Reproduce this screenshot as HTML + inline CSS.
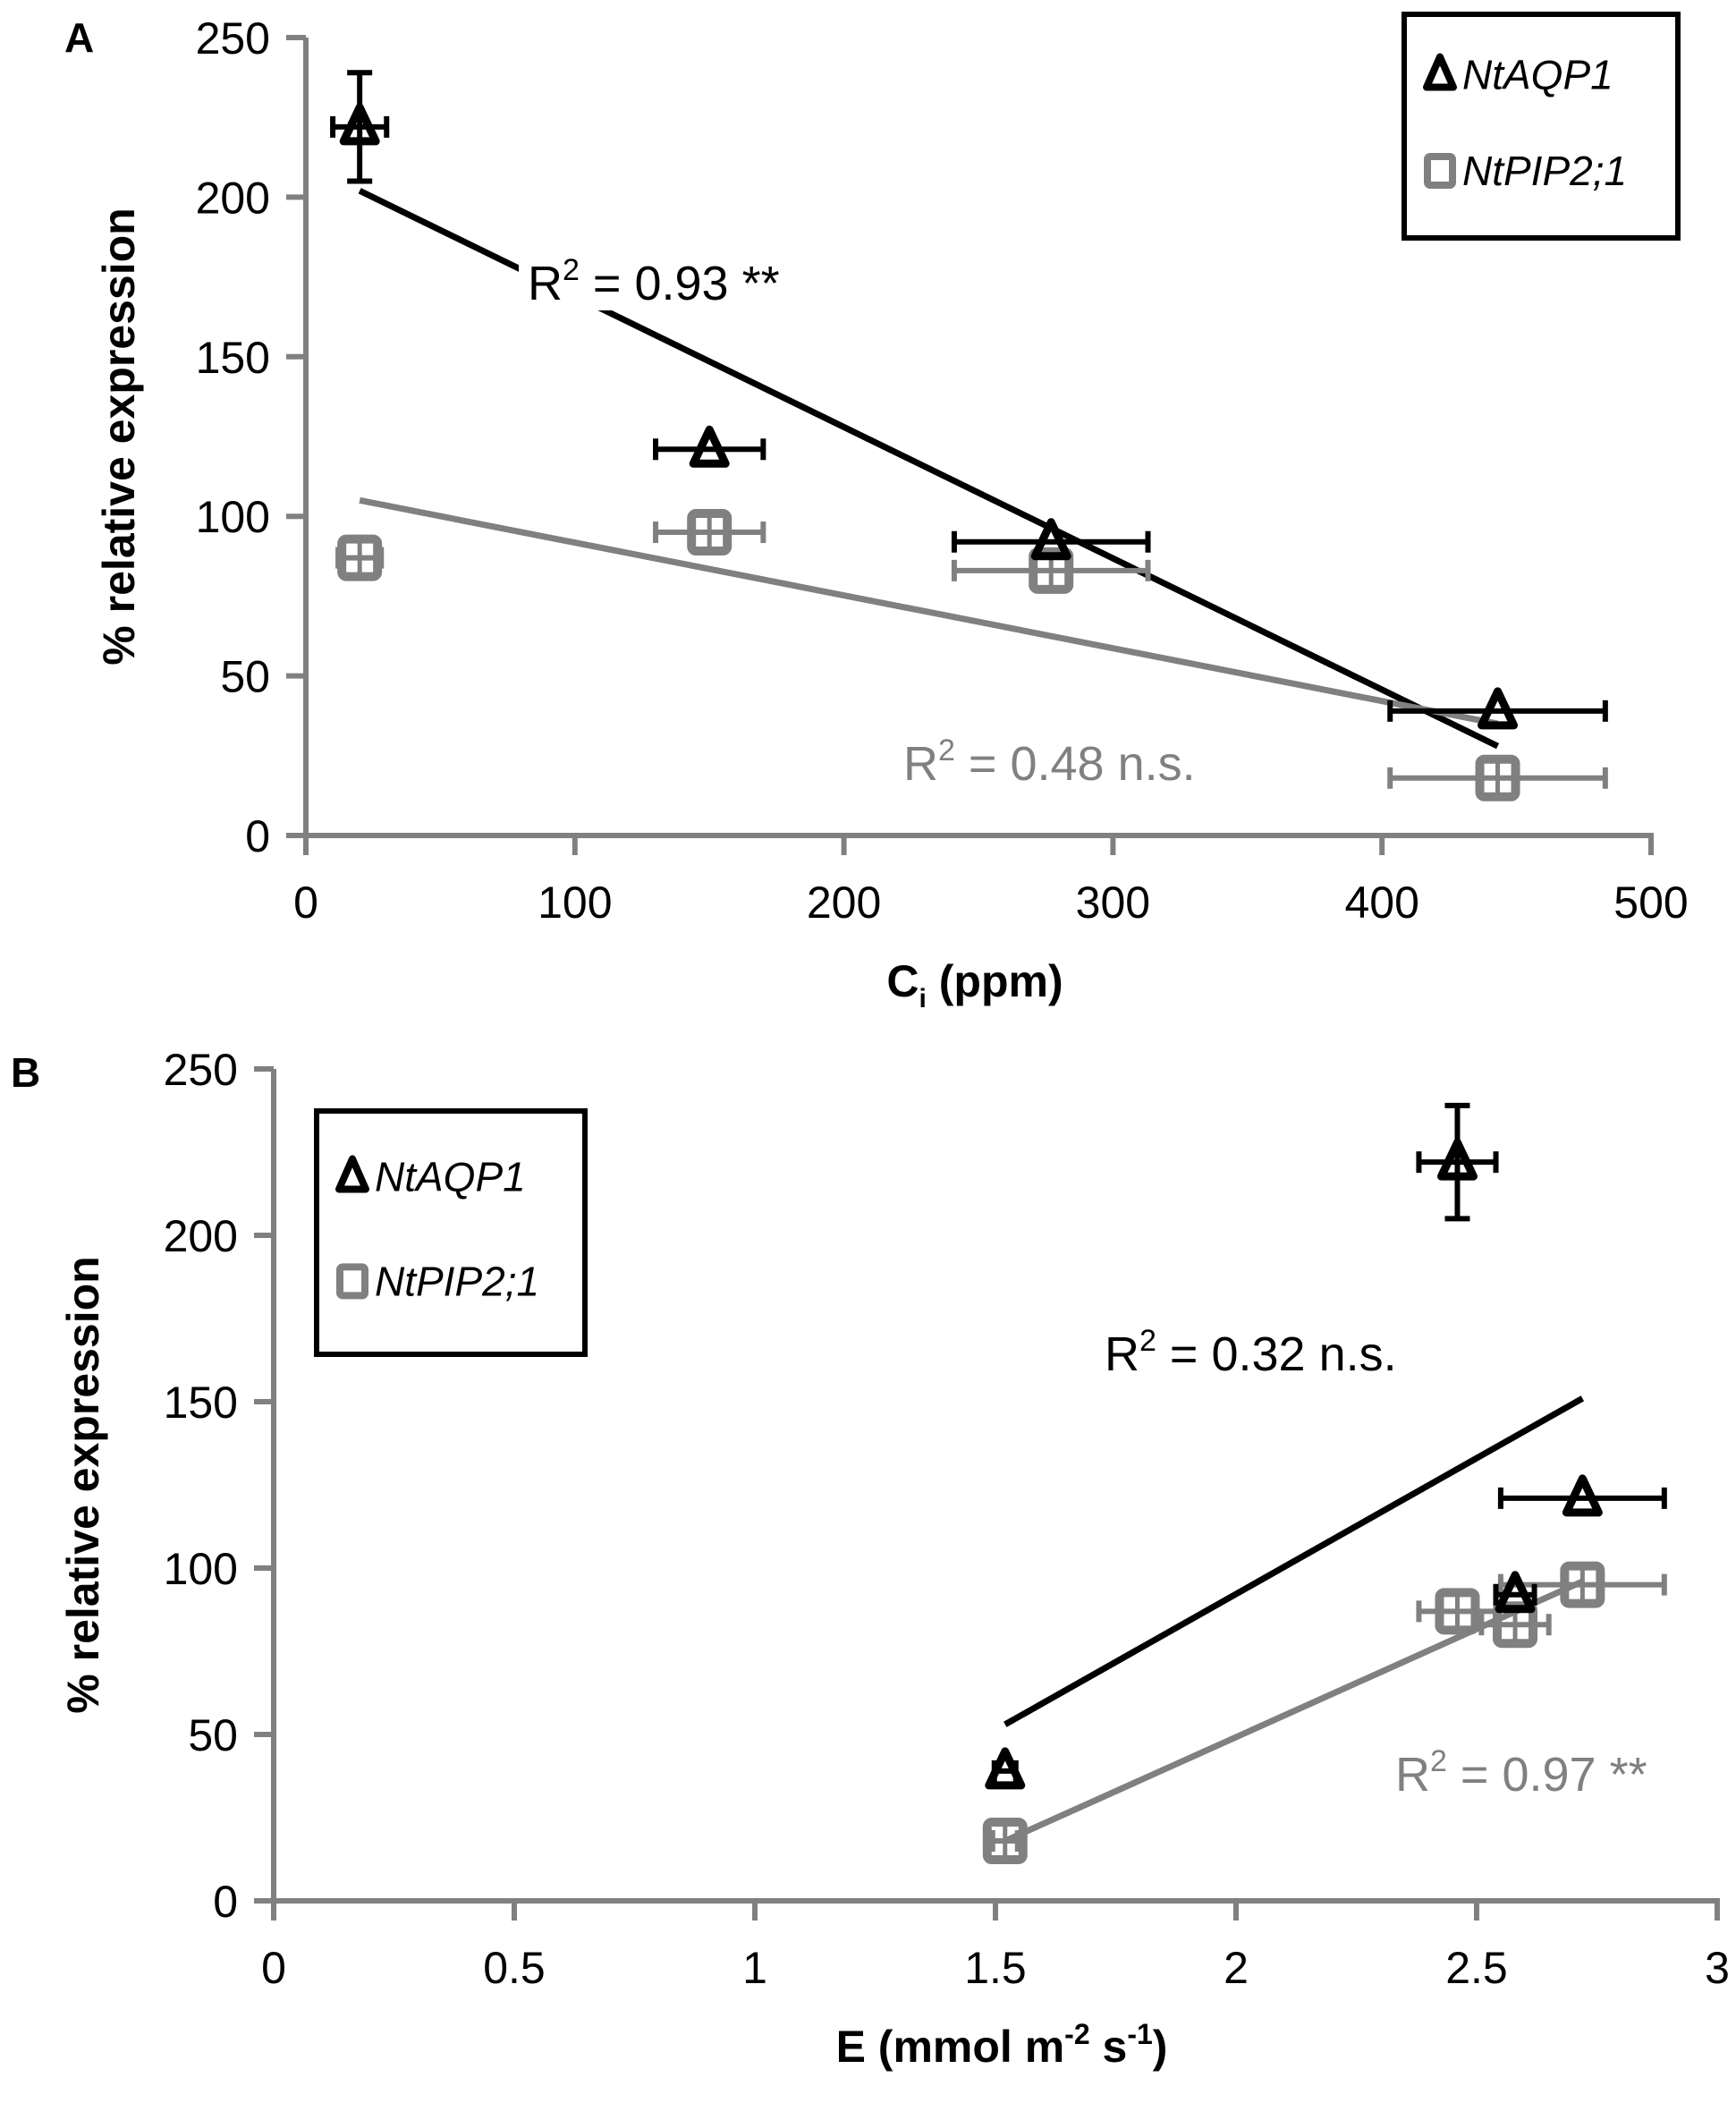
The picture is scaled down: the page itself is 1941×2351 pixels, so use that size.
<!DOCTYPE html>
<html><head><meta charset="utf-8"><style>
html,body{margin:0;padding:0;background:#fff;}
svg{display:block;font-family:"Liberation Sans",sans-serif;}
</style></head><body>
<svg id="fig" width="1941" height="2351" viewBox="0 0 1941 2351" xmlns="http://www.w3.org/2000/svg">
<g id="A"></g>
<g id="B"></g>
</svg>
<script>
// Panel A data (Ci, ppm)
const ciAqp = [20, 150, 277, 443];
const aqpA = [222, 121, 92, 39];
const aqpAYerr = [17, 0, 0, 0];
const ciAqpXerr = [10, 20, 36, 40];
const ciPip = [20, 150, 277, 443];
const pipA = [87, 95, 83, 18];
const ciPipXerr = [8, 20, 36, 40];
const trendAqpA = [[20, 202], [443, 28]];
const trendPipA = [[20, 105], [443, 35]];
const ticksAx = [0, 100, 200, 300, 400, 500];
const ticksY = [0, 50, 100, 150, 200, 250];
// Panel B data (E, mmol m-2 s-1)
const eAqp = [2.46, 2.72, 2.58, 1.52];
const aqpB = [222, 121, 92, 39];
const aqpBYerr = [17, 0, 0, 0];
const eAqpXerr = [0.08, 0.17, 0.04, 0.01];
const ePip = [2.46, 2.72, 2.58, 1.52];
const pipB = [87, 95, 83, 18];
const ePipXerr = [0.08, 0.17, 0.07, 0.01];
const trendAqpB = [[1.52, 53], [2.72, 151]];
const trendPipB = [[1.52, 18], [2.72, 96]];
const ticksBx = [0, 0.5, 1, 1.5, 2, 2.5, 3];
const ticksBxLbl = ["0", "0.5", "1", "1.5", "2", "2.5", "3"];

const NS = "http://www.w3.org/2000/svg";
function mk(parent, tag, attrs, text) {
  const e = document.createElementNS(NS, tag);
  for (const k in attrs) e.setAttribute(k, attrs[k]);
  if (text !== undefined) e.textContent = text;
  parent.appendChild(e);
  return e;
}
const GRAY = "#808080";

function panel(g, cfg) {
  const X = v => cfg.x0 + (v - cfg.xmin) / (cfg.xmax - cfg.xmin) * (cfg.x1 - cfg.x0);
  const Y = v => cfg.y0 - v / 250 * (cfg.y0 - cfg.y1);
  let ax = mk(g, "line", {x1: cfg.x0, y1: cfg.y0 + 3, x2: cfg.x0, y2: cfg.y1, stroke: GRAY, "stroke-width": 6});
  
  
  ax = mk(g, "line", {x1: cfg.x0 - 22, y1: cfg.y0, x2: cfg.x1 + 3, y2: cfg.y0, stroke: GRAY, "stroke-width": 6});
  
  
  cfg.yt.forEach(v => {
    const t = mk(g, "line", {x1: cfg.x0 - 22, y1: Y(v), x2: cfg.x0, y2: Y(v), stroke: GRAY, "stroke-width": 6});
    
    
    const l = mk(g, "text", {x: cfg.x0 - 40, y: Y(v) + 18, "text-anchor": "end", "font-size": 50, fill: "#000"}, String(v));
    
    
  });
  cfg.xt.forEach((v, i) => {
    const t = mk(g, "line", {x1: X(v), y1: cfg.y0, x2: X(v), y2: cfg.y0 + 22, stroke: GRAY, "stroke-width": 6});
    
    
    const l = mk(g, "text", {x: X(v), y: cfg.y0 + 92, "text-anchor": "middle", "font-size": 50, fill: "#000"}, cfg.xl[i]);
    
    
  });
  [[cfg.ta, "#000"], [cfg.tp, GRAY]].forEach(([tr, c], i) => {
    const l = mk(g, "line", {x1: X(tr[0][0]), y1: Y(tr[0][1]), x2: X(tr[1][0]), y2: Y(tr[1][1]), stroke: c, "stroke-width": 7});
    
    
  });
  cfg.r2.forEach(r => {
    const bg = mk(g, "rect", {x: r.x - 10, y: r.y - 50, width: r.w, height: 62, fill: "#fff"});
    
    
    const t = mk(g, "text", {x: r.x, y: r.y, "font-size": 54, fill: r.c});
    
    
    mk(t, "tspan", {}, "R");
    mk(t, "tspan", {"font-size": 34, dy: -22}, "2");
    mk(t, "tspan", {dy: 22}, " = " + r.txt);
  });
  cfg.px.forEach((xv, i) => {
    const cx = X(xv), cy = Y(cfg.py[i]);
    const gp = mk(g, "g", {});
    
    
    const xe = Math.max(cfg.pxe[i] / (cfg.xmax - cfg.xmin) * (cfg.x1 - cfg.x0), 14);
    mk(gp, "line", {x1: cx - xe, y1: cy, x2: cx + xe, y2: cy, stroke: GRAY, "stroke-width": 6});
    mk(gp, "line", {x1: cx - xe, y1: cy - 12, x2: cx - xe, y2: cy + 12, stroke: GRAY, "stroke-width": 6});
    mk(gp, "line", {x1: cx + xe, y1: cy - 12, x2: cx + xe, y2: cy + 12, stroke: GRAY, "stroke-width": 6});
    mk(gp, "rect", {x: cx - 20, y: cy - 21, width: 40, height: 42, rx: 5, fill: "none", stroke: GRAY, "stroke-width": 10});
    mk(gp, "line", {x1: cx, y1: cy - 20, x2: cx, y2: cy + 20, stroke: GRAY, "stroke-width": 5});
  });
  cfg.ax.forEach((xv, i) => {
    const cx = X(xv), cy = Y(cfg.ay[i]);
    const gp = mk(g, "g", {});
    
    
    const xe = Math.max(cfg.axe[i] / (cfg.xmax - cfg.xmin) * (cfg.x1 - cfg.x0), 12);
    mk(gp, "line", {x1: cx - xe, y1: cy, x2: cx + xe, y2: cy, stroke: "#000", "stroke-width": 6});
    mk(gp, "line", {x1: cx - xe, y1: cy - 12, x2: cx - xe, y2: cy + 12, stroke: "#000", "stroke-width": 6});
    mk(gp, "line", {x1: cx + xe, y1: cy - 12, x2: cx + xe, y2: cy + 12, stroke: "#000", "stroke-width": 6});
    if (cfg.aye[i] > 0) {
      const yt = Y(cfg.ay[i] + cfg.aye[i]), yb = Y(cfg.ay[i] - cfg.aye[i]);
      mk(gp, "line", {x1: cx, y1: yt, x2: cx, y2: yb, stroke: "#000", "stroke-width": 6});
      mk(gp, "line", {x1: cx - 14, y1: yt, x2: cx + 14, y2: yt, stroke: "#000", "stroke-width": 6});
      mk(gp, "line", {x1: cx - 14, y1: yb, x2: cx + 14, y2: yb, stroke: "#000", "stroke-width": 6});
    }
    mk(gp, "polygon", {points: `${cx},${cy-22} ${cx+18},${cy+16} ${cx-18},${cy+16}`, fill: "none", stroke: "#000", "stroke-width": 9, "stroke-linejoin": "round"});
  });
  const L = cfg.leg;
  const lg = mk(g, "g", {});
  
  
  mk(lg, "rect", {x: L.x, y: L.y, width: L.w, height: L.h, fill: "#fff", stroke: "#000", "stroke-width": 6});
  const e1 = mk(lg, "g", {});
  
  
  const tx = L.x + 40, ty1 = L.y + L.h * 0.27, ty2 = L.y + L.h * 0.7;
  mk(e1, "polygon", {points: `${tx},${ty1-20} ${tx+15},${ty1+14} ${tx-15},${ty1+14}`, fill: "none", stroke: "#000", "stroke-width": 8, "stroke-linejoin": "round"});
  mk(e1, "text", {x: tx + 25, y: ty1 + 16, "font-size": 46, "font-style": "italic", fill: "#000"}, "NtAQP1");
  const e2 = mk(lg, "g", {});
  
  
  mk(e2, "rect", {x: tx - 14, y: ty2 - 16, width: 28, height: 32, rx: 3, fill: "none", stroke: GRAY, "stroke-width": 8});
  mk(e2, "text", {x: tx + 25, y: ty2 + 16, "font-size": 46, "font-style": "italic", fill: "#000"}, "NtPIP2;1");
  const yc = (cfg.y0 + cfg.y1) / 2;
  const yt = mk(g, "text", {x: cfg.ytx, y: yc, "text-anchor": "middle", "font-size": 50, "font-weight": "bold", transform: `rotate(-90 ${cfg.ytx} ${yc})`}, "% relative expression");
  
  
  const xt = mk(g, "text", {x: cfg.xtx, y: cfg.y0 + 180, "text-anchor": "middle", "font-size": 50, "font-weight": "bold"});
  
  
  cfg.xtitle(xt);
  const pl = mk(g, "text", {x: cfg.plx, y: cfg.ply, "font-size": 46, "font-weight": "bold"}, cfg.pl);
  
  
}

panel(document.getElementById("A"), {
  x0: 342, x1: 1846, y0: 934, y1: 42, xmin: 0, xmax: 500,
  xt: ticksAx, xl: ticksAx.map(String), yt: ticksY,
  ax: ciAqp, ay: aqpA, aye: aqpAYerr, axe: ciAqpXerr,
  px: ciPip, py: pipA, pxe: ciPipXerr,
  ta: trendAqpA, tp: trendPipA,
  r2: [{x: 590, y: 335, w: 320, c: "#000", txt: "0.93 **"}, {x: 1010, y: 872, w: 350, c: GRAY, txt: "0.48 n.s."}],
  leg: {x: 1570, y: 16, w: 306, h: 250},
  ytx: 150, xtx: 1090, pl: "A", plx: 72, ply: 58,
  xtitle: t => { mk(t, "tspan", {}, "C"); mk(t, "tspan", {"font-size": 30, dy: 12}, "i"); mk(t, "tspan", {dy: -12}, " (ppm)"); }
});
panel(document.getElementById("B"), {
  x0: 306, x1: 1920, y0: 2125, y1: 1195, xmin: 0, xmax: 3,
  xt: ticksBx, xl: ticksBxLbl, yt: ticksY,
  ax: eAqp, ay: aqpB, aye: aqpBYerr, axe: eAqpXerr,
  px: ePip, py: pipB, pxe: ePipXerr,
  ta: trendAqpB, tp: trendPipB,
  r2: [{x: 1235, y: 1532, w: 370, c: "#000", txt: "0.32 n.s."}, {x: 1560, y: 2002, w: 340, c: GRAY, txt: "0.97 **"}],
  leg: {x: 354, y: 1242, w: 300, h: 272},
  ytx: 110, xtx: 1120, pl: "B", plx: 12, ply: 1215,
  xtitle: t => { mk(t, "tspan", {}, "E (mmol m"); mk(t, "tspan", {"font-size": 32, dy: -20}, "-2"); mk(t, "tspan", {dy: 20}, " s"); mk(t, "tspan", {"font-size": 32, dy: -20}, "-1"); mk(t, "tspan", {dy: 20}, ")"); }
});
</script>
</body></html>
